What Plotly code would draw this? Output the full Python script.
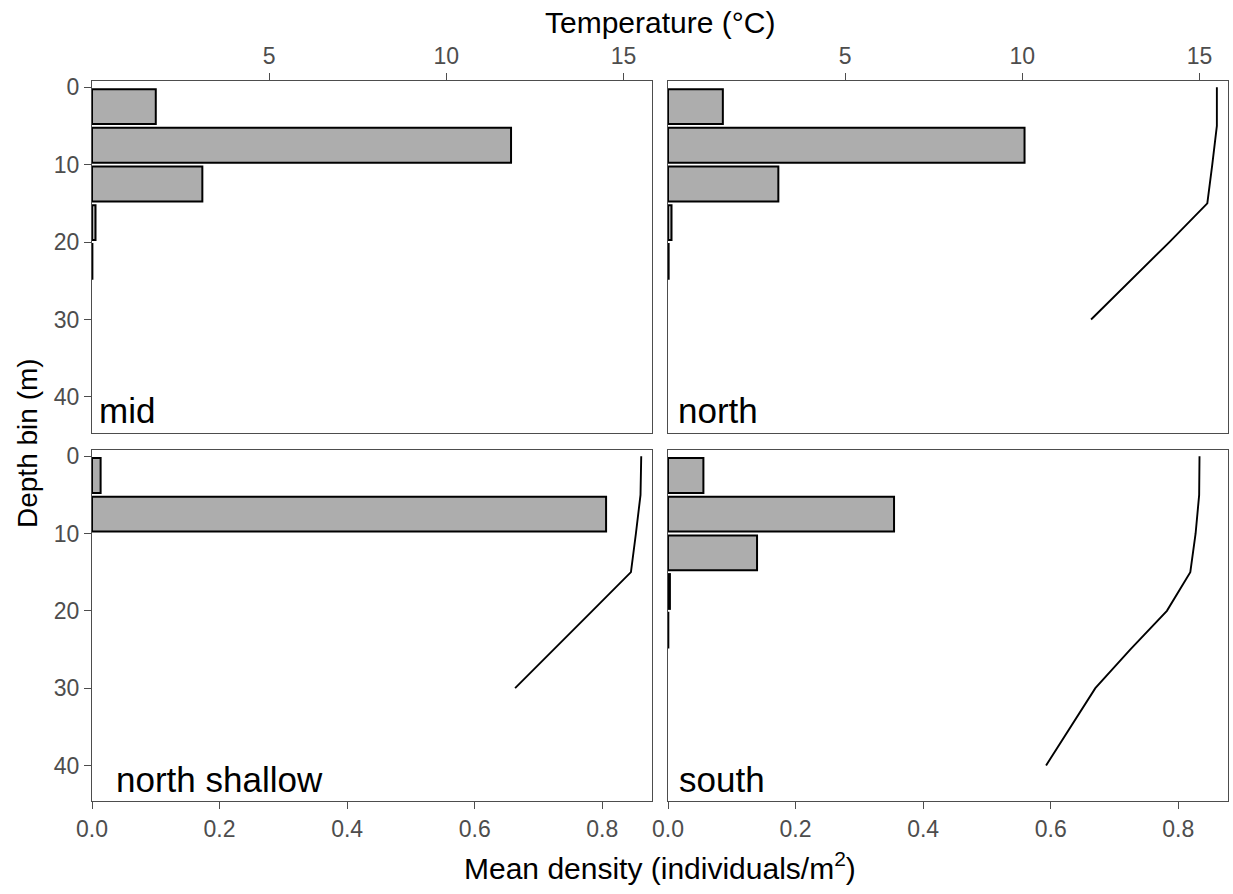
import plotly.graph_objects as go

# ---- data -----------------------------------------------------------------
depth_bins = [0, 5, 10, 15, 20]          # upper edge of each 5 m depth bin
bin_width = 5

mid_density = [0.100, 0.657, 0.173, 0.0055, 0.0006]
north_density = [0.086, 0.559, 0.173, 0.0055, 0.0010]
north_shallow_density = [0.0135, 0.806, None, None, None]
south_density = [0.0555, 0.3544, 0.1396, 0.0030, 0.0005]

north_temp_depth = [0, 5, 10, 15, 20, 25, 30]
north_temp = [15.49, 15.49, 15.36, 15.22, 14.15, 13.04, 11.94]
north_shallow_temp_depth = [0, 5, 10, 15, 20, 25, 30]
north_shallow_temp = [15.50, 15.48, 15.35, 15.21, 14.12, 13.02, 11.94]
south_temp_depth = [0, 5, 10, 15, 20, 25, 30, 35, 40]
south_temp = [15.00, 14.99, 14.89, 14.74, 14.08, 13.05, 12.06, 11.36, 10.67]

density_ticks = [0.0, 0.2, 0.4, 0.6, 0.8]
temp_ticks = [5, 10, 15]
depth_ticks = [0, 10, 20, 30, 40]

# ---- scales / styling ------------------------------------------------------
TEMP_PER_DENSITY = 18.0            # secondary axis: temperature = density * 18
DENSITY_RANGE = [0, 0.878]
TEMP_RANGE = [0, DENSITY_RANGE[1] * TEMP_PER_DENSITY]
DEPTH_RANGE = [44.6, -0.8]         # reversed: surface on top

W, H = 1233, 894
FONT = "Liberation Sans, Arial, sans-serif"
BORDER = "#4d4d4d"
TICKTXT = "#4d4d4d"
BAR_FILL = "#adadad"
TICK_SIZE = 23

col_px = [(92, 652), (668, 1228)]
row_px = [(81, 432.5), (450, 801)]


def xdom(c):
    a, b = col_px[c]
    return [a / W, b / W]


def ydom(r):
    a, b = row_px[r]
    return [1 - b / H, 1 - a / H]


panels = [
    # name, density values, temp depth, temp values, row, col, label x
    ("mid", mid_density, None, None, 0, 0, 0.008),
    ("north", north_density, north_temp_depth, north_temp, 0, 1, 0.012),
    ("north shallow", north_shallow_density, north_shallow_temp_depth,
     north_shallow_temp, 1, 0, 0.034),
    ("south", south_density, south_temp_depth, south_temp, 1, 1, 0.014),
]

fig = go.Figure()
layout = dict(
    template="none",
    width=W, height=H, autosize=False,
    margin=dict(l=0, r=0, t=0, b=0, pad=0),
    paper_bgcolor="white", plot_bgcolor="white",
    showlegend=False,
    font=dict(family=FONT, color="black"),
    annotations=[],
)

bar_centres = [d + bin_width / 2 for d in depth_bins]

for i, (name, dens, tdepth, temp, r, c, lab_x) in enumerate(panels):
    n = i + 1
    xa = "x" if n == 1 else f"x{n}"
    ya = "y" if n == 1 else f"y{n}"
    ta = f"x{n + 4}"

    # density (primary) x-axis
    layout[f"xaxis{'' if n == 1 else n}"] = dict(
        domain=xdom(c), anchor=ya, range=DENSITY_RANGE, automargin=False,
        showgrid=False, zeroline=False,
        showline=True, mirror=True, linecolor=BORDER, linewidth=1.3,
        ticks="outside" if r == 1 else "", ticklen=7, tickwidth=1.3,
        tickcolor=BORDER,
        tickvals=density_ticks,
        ticktext=[f"{v:.1f}" for v in density_ticks],
        showticklabels=(r == 1),
        tickfont=dict(size=TICK_SIZE, color=TICKTXT, family=FONT),
    )
    # temperature (secondary, top) x-axis
    layout[f"xaxis{n + 4}"] = dict(
        overlaying=xa, anchor=ya, side="top", range=TEMP_RANGE,
        automargin=False,
        showgrid=False, zeroline=False, showline=False,
        ticks="outside" if r == 0 else "", ticklen=7, tickwidth=1.3,
        tickcolor=BORDER,
        tickvals=temp_ticks, showticklabels=(r == 0),
        tickfont=dict(size=TICK_SIZE, color=TICKTXT, family=FONT),
        visible=(r == 0),
    )
    # depth y-axis
    layout[f"yaxis{'' if n == 1 else n}"] = dict(
        domain=ydom(r), anchor=xa, range=DEPTH_RANGE, automargin=False,
        showgrid=False, zeroline=False,
        showline=True, mirror=True, linecolor=BORDER, linewidth=1.3,
        ticks="outside" if c == 0 else "", ticklen=7, tickwidth=1.3,
        tickcolor=BORDER,
        tickvals=depth_ticks, showticklabels=(c == 0),
        tickfont=dict(size=TICK_SIZE, color=TICKTXT, family=FONT),
    )

    fig.add_trace(go.Bar(
        x=dens, y=bar_centres, orientation="h", width=0.9 * bin_width,
        marker=dict(color=BAR_FILL, line=dict(color="black", width=2)),
        xaxis=xa, yaxis=ya, hoverinfo="skip",
    ))
    # temperature profile (an empty trace keeps the top axis for "mid")
    fig.add_trace(go.Scatter(
        x=temp if temp is not None else [],
        y=tdepth if tdepth is not None else [],
        mode="lines", line=dict(color="black", width=1.9),
        xaxis=ta, yaxis=ya, hoverinfo="skip",
    ))

    layout["annotations"].append(dict(
        text=name, xref=xa, yref=ya, x=lab_x, y=41.8,
        xanchor="left", yanchor="middle", showarrow=False,
        font=dict(size=35, color="black", family=FONT),
    ))

# shared axis titles
layout["annotations"] += [
    dict(text="Temperature (°C)", xref="paper", yref="paper",
         x=660 / W, y=1 - 22 / H, xanchor="center", yanchor="middle",
         showarrow=False, font=dict(size=30, color="black", family=FONT)),
    dict(text="Mean density (individuals/m<sup>2</sup>)", xref="paper",
         yref="paper", x=660 / W, y=1 - 866 / H, xanchor="center",
         yanchor="middle", showarrow=False,
         font=dict(size=30, color="black", family=FONT)),
    dict(text="Depth bin (m)", xref="paper", yref="paper",
         x=28 / W, y=1 - 443 / H, xanchor="center", yanchor="middle",
         textangle=-90, showarrow=False,
         font=dict(size=28, color="black", family=FONT)),
]

fig.update_layout(**layout)
fig.write_html("out.html")
